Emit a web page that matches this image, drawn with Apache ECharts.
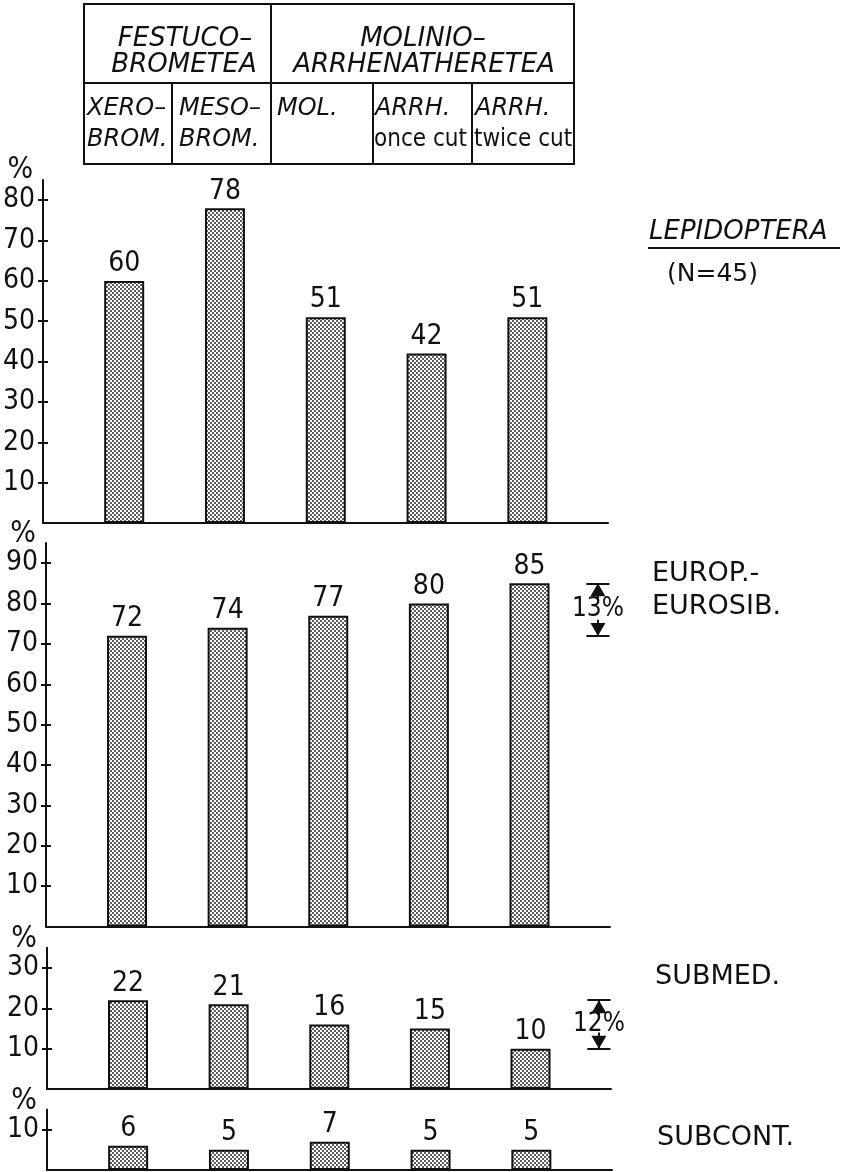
<!DOCTYPE html>
<html>
<head>
<meta charset="utf-8">
<script src="https://cdn.jsdelivr.net/npm/echarts@6/dist/echarts.min.js"></script>
<style>
html,body{margin:0;padding:0;background:#fff;}
#main{width:848px;height:1172px;}
</style>
</head>
<body>
<div id="main"></div>
<script>
// ---------------- data ----------------
const classNames = ['FESTUCO–', 'BROMETEA', 'MOLINIO–', 'ARRHENATHERETEA'];
const categories = ['XERO–BROM.', 'MESO–BROM.', 'MOL.', 'ARRH. once cut', 'ARRH. twice cut'];
const catTop = ['XERO–', 'MESO–', 'MOL.', 'ARRH.', 'ARRH.'];
const catBottom = ['BROM.', 'BROM.', '', 'once cut', 'twice cut'];

const lepidoptera = [60, 78, 51, 42, 51];
const europEurosib = [72, 74, 77, 80, 85];
const submed = [22, 21, 16, 15, 10];
const subcont = [6, 5, 7, 5, 5];

const ticksLepi = [10, 20, 30, 40, 50, 60, 70, 80];
const ticksEurop = [10, 20, 30, 40, 50, 60, 70, 80, 90];
const ticksSubmed = [10, 20, 30];
const ticksSubcont = [10];
const axisMaxes = [85, 95, 35, 15];

const panelTitles = ['LEPIDOPTERA', '(N=45)', 'EUROP.-', 'EUROSIB.', 'SUBMED.', 'SUBCONT.'];

// ---------------- layout ----------------
const W = 848;
const panels = [
  {left: 43, right: 240, top: 180, bottom: 649, values: lepidoptera, ticks: ticksLepi, max: axisMaxes[0], nameGap: 10},
  {left: 46, right: 238, top: 543, bottom: 245.5, values: europEurosib, ticks: ticksEurop, max: axisMaxes[1], nameGap: 6, annot: true},
  {left: 47, right: 237, top: 947.8, bottom: 83, values: submed, ticks: ticksSubmed, max: axisMaxes[2], nameGap: 7, annot: true},
  {left: 47, right: 236, top: 1109.5, bottom: 2, values: subcont, ticks: ticksSubcont, max: axisMaxes[3], nameGap: 6}
];
const X_MIN = -0.805, X_MAX = 4.8;
const ANNOT_X = 4.68, ANNOT_HALF = 0.115;

const FONT_NUM = '"DejaVu Sans Condensed", "DejaVu Sans", sans-serif';
const NUM_SIZE = 28;
const INK = '#111';

function makePattern() {
  const c = document.createElement('canvas');
  c.width = 4; c.height = 4;
  const g = c.getContext('2d');
  g.fillStyle = '#ffffff'; g.fillRect(0, 0, 4, 4);
  g.fillStyle = '#5c5c5c';
  g.fillRect(0, 0, 2, 2);
  g.fillRect(2, 2, 2, 2);
  return c;
}
const pattern = makePattern();

const grids = [], xAxes = [], yAxes = [], series = [];
panels.forEach((p, i) => {
  grids.push({left: p.left, right: p.right, top: p.top, bottom: p.bottom, containLabel: false});
  xAxes.push({
    gridIndex: i, type: 'value', min: X_MIN, max: X_MAX,
    axisLine: {show: true, onZero: false, lineStyle: {color: INK, width: 2}},
    axisTick: {show: false}, axisLabel: {show: false}, splitLine: {show: false}
  });
  yAxes.push({
    gridIndex: i, type: 'value', min: 0, max: p.max, position: 'left',
    name: '%', nameLocation: 'end', nameGap: p.nameGap,
    nameTextStyle: {fontSize: 30, color: INK, fontFamily: FONT_NUM, align: 'right', verticalAlign: 'middle', padding: [0, 10, 0, 0]},
    axisLine: {show: true, onZero: false, lineStyle: {color: INK, width: 2}},
    axisTick: {show: true, length: 5, customValues: p.ticks, lineStyle: {color: INK, width: 2}},
    axisLabel: {customValues: p.ticks, margin: 8, fontSize: NUM_SIZE, color: INK, fontFamily: FONT_NUM},
    splitLine: {show: false}
  });
  const gridWidth = W - p.left - p.right;
  yAxes.push({
    gridIndex: i, type: 'value', min: 0, max: p.max, position: 'right', offset: -gridWidth,
    axisLine: {show: false, onZero: false},
    axisTick: {show: true, inside: false, length: 5, customValues: p.ticks, lineStyle: {color: INK, width: 2}},
    axisLabel: {show: false}, splitLine: {show: false}
  });
  const s = {
    type: 'bar', name: panelTitles[i], xAxisIndex: i, yAxisIndex: 2 * i,
    data: p.values.map((v, k) => ({name: categories[k], value: [k, v]})),
    barWidth: 40,
    itemStyle: {color: {image: pattern, repeat: 'repeat'}, borderColor: INK, borderWidth: 2},
    label: {show: true, position: 'top', distance: 3, formatter: q => q.value[1], fontSize: NUM_SIZE, color: INK, fontFamily: FONT_NUM},
    animation: false
  };
  if (p.annot) {
    const maxV = Math.max(...p.values), minV = Math.min(...p.values);
    s.markLine = {
      silent: true, symbol: ['none', 'none'], animation: false,
      lineStyle: {color: INK, width: 2, type: 'solid'}, label: {show: false},
      data: [
        [{coord: [ANNOT_X - ANNOT_HALF, maxV]}, {coord: [ANNOT_X + ANNOT_HALF, maxV]}],
        [{coord: [ANNOT_X - ANNOT_HALF, minV]}, {coord: [ANNOT_X + ANNOT_HALF, minV]}],
        [{coord: [ANNOT_X, maxV]}, {coord: [ANNOT_X, maxV - 4]}],
        [{coord: [ANNOT_X, minV]}, {coord: [ANNOT_X, minV + 4]}]
      ]
    };
    s.markPoint = {
      silent: true, animation: false,
      data: [
        {coord: [ANNOT_X, maxV - 1.6], symbol: 'triangle', symbolSize: [15, 13], symbolRotate: 0, itemStyle: {color: INK}, label: {show: false}},
        {coord: [ANNOT_X, minV + 1.6], symbol: 'triangle', symbolSize: [15, 13], symbolRotate: 180, itemStyle: {color: INK}, label: {show: false}},
        {coord: [ANNOT_X, (maxV + minV) / 2], symbol: 'circle', symbolSize: 0,
         label: {show: true, position: 'inside', formatter: (maxV - minV) + '%', fontSize: 26, color: INK, fontFamily: FONT_NUM}}
      ]
    };
  }
  series.push(s);
});

// ---------------- header table + side labels (graphic) ----------------
const T = {x0: 84, x1: 574, y0: 4, y1: 164, ymid: 83, xcls: 271, cols: [84, 172, 271, 373, 472, 574]};
const g = [];
const line = (x1, y1, x2, y2) => ({type: 'line', shape: {x1, y1, x2, y2}, style: {stroke: INK, lineWidth: 2}});
const txt = (x, y, text, font, align) => ({type: 'text', x, y, style: {text, font, fill: INK, align: align || 'left', verticalAlign: 'middle'}});
g.push({type: 'rect', shape: {x: T.x0, y: T.y0, width: T.x1 - T.x0, height: T.y1 - T.y0}, style: {fill: 'none', stroke: INK, lineWidth: 2}});
g.push(line(T.x0, T.ymid, T.x1, T.ymid));
g.push(line(T.xcls, T.y0, T.xcls, T.y1));
[1, 3, 4].forEach(k => g.push(line(T.cols[k], T.ymid, T.cols[k], T.y1)));
const HF_TOP = 'italic 26px "DejaVu Sans", sans-serif';
const HF = 'italic 24px "DejaVu Sans", sans-serif';
g.push(txt(185, 39, classNames[0], HF_TOP, 'center'));
g.push(txt(184, 65, classNames[1], HF_TOP, 'center'));
g.push(txt(423, 39, classNames[2], HF_TOP, 'center'));
g.push(txt(424, 65, classNames[3], HF_TOP, 'center'));
const colX = [87, 179, 277, 375, 475];
catTop.forEach((t, k) => g.push(txt(colX[k], 109, t, HF)));
catBottom.forEach((t, k) => {
  if (!t) return;
  const f = (k >= 3) ? '24px "DejaVu Sans Condensed", "DejaVu Sans", sans-serif' : HF;
  g.push(txt(colX[k] - (k >= 3 ? 1 : 0), 140, t, f));
});
// side labels
const SF = '27px "DejaVu Sans", sans-serif';
g.push(txt(649, 232, panelTitles[0], 'italic 26px "DejaVu Sans", sans-serif'));
g.push(line(648, 248, 840, 248));
g.push(txt(667, 274, panelTitles[1], '25px "DejaVu Sans", sans-serif'));
g.push(txt(652, 574, panelTitles[2], SF));
g.push(txt(652, 607, panelTitles[3], SF));
g.push(txt(655, 977, panelTitles[4], SF));
g.push(txt(657, 1138, panelTitles[5], SF));

const chart = echarts.init(document.getElementById('main'), null, {renderer: 'canvas'});
chart.setOption({
  animation: false,
  backgroundColor: '#ffffff',
  grid: grids, xAxis: xAxes, yAxis: yAxes, series: series,
  graphic: g
});
</script>
</body>
</html>
